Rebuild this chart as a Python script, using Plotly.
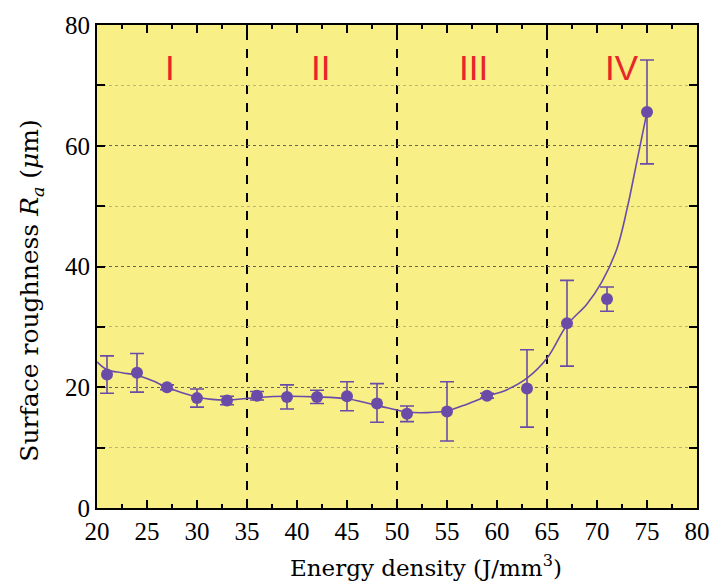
import plotly.graph_objects as go

# Measured data
energy = [21, 24, 27, 30, 33, 36, 39, 42, 45, 48, 51, 55, 59, 63, 67, 71, 75]
roughness = [22.1, 22.4, 20.0, 18.2, 17.8, 18.6, 18.4, 18.4, 18.5, 17.3, 15.6, 16.0, 18.6, 19.8, 30.6, 34.6, 65.6]
err_plus = [3.1, 3.2, 0.4, 1.5, 0.7, 0.7, 2.0, 1.1, 2.4, 3.3, 1.3, 4.9, 0.4, 6.4, 7.1, 2.0, 8.6]
err_minus = [3.1, 3.2, 0.4, 1.5, 0.7, 0.7, 2.0, 1.1, 2.4, 3.1, 1.3, 4.9, 0.4, 6.4, 7.1, 2.0, 8.6]

# Smoothed fit curve
fit_x = [20, 21, 22.5, 24, 25.5, 27, 28.5, 30, 31.5, 33, 36, 39, 42, 45, 47, 49, 51, 53, 55, 57, 59, 61, 63, 65, 67, 69, 70.5, 72, 73, 74, 75]
fit_y = [24.2, 22.9, 22.4, 22.0, 21.1, 20.0, 19.1, 18.4, 18.0, 17.9, 18.3, 18.5, 18.4, 18.1, 17.4, 16.6, 15.9, 15.8, 16.1, 17.2, 18.5, 19.6, 21.5, 24.8, 30.3, 33.8, 37.5, 43.0, 49.5, 57.5, 65.6]

# Regions
boundaries = [35, 50, 65]
region_labels = ["I", "II", "III", "IV"]
region_x = [27.3, 42.3, 57.6, 72.5]
region_y = 73

x_title = "Energy density (J/mm<sup>3</sup>)"
y_title = "Surface roughness <i>R<sub>a</sub></i> (<i>μ</i>m)"

purple = "#6A4CA8"
tick_font = "Liberation Serif, Times New Roman, serif"
title_font = "DejaVu Serif, serif"

fig = go.Figure()

fig.add_trace(go.Scatter(
    x=fit_x, y=fit_y, mode="lines",
    line=dict(color=purple, width=1.6, shape="spline", smoothing=1.0),
    hoverinfo="skip", showlegend=False,
))

fig.add_trace(go.Scatter(
    x=energy, y=roughness, mode="markers",
    marker=dict(color=purple, size=12),
    error_y=dict(type="data", symmetric=False, array=err_plus, arrayminus=err_minus,
                 color=purple, thickness=1.6, width=7),
    showlegend=False,
))

for b in boundaries:
    fig.add_shape(type="line", x0=b, x1=b, y0=0, y1=1, xref="x", yref="paper",
                  line=dict(color="black", width=2, dash="dash"), layer="below")

for lab, lx in zip(region_labels, region_x):
    fig.add_annotation(x=lx, y=region_y, text=lab, showarrow=False,
                       font=dict(family="Liberation Sans, Arial, sans-serif", size=35, color="#E8262A"))

# Axis titles as annotations (positioned like the reference)
fig.add_annotation(x=0.548, y=-0.12, xref="paper", yref="paper", text=x_title,
                   showarrow=False, xanchor="center", yanchor="middle",
                   font=dict(family=title_font, size=23, color="black"))
fig.add_annotation(x=-0.11, y=0.45, xref="paper", yref="paper", text=y_title,
                   showarrow=False, textangle=-90, xanchor="center", yanchor="middle",
                   font=dict(family=title_font, size=25, color="black"))

fig.update_layout(
    width=722, height=587,
    margin=dict(l=97, r=15, t=15, b=79),
    paper_bgcolor="white",
    plot_bgcolor="#F8EF86",
    font=dict(family=tick_font, size=25, color="black"),
)

fig.update_xaxes(
    range=[20, 80], dtick=5, tick0=20,
    ticks="inside", ticklen=8, tickwidth=2, tickcolor="black",
    showline=True, linecolor="black", linewidth=2, mirror="ticks",
    showgrid=False, zeroline=False,
    minor=dict(dtick=2.5, ticks="inside", ticklen=4, tickwidth=1.5, tickcolor="black", showgrid=False),
    tickfont=dict(size=25),
)

fig.update_yaxes(
    range=[0, 80], dtick=20, tick0=0,
    ticks="inside", ticklen=8, tickwidth=2, tickcolor="black",
    showline=True, linecolor="black", linewidth=2, mirror="ticks",
    showgrid=True, gridcolor="#666655", griddash="dot", gridwidth=1,
    zeroline=False,
    minor=dict(dtick=10, ticks="inside", ticklen=8, tickwidth=2, tickcolor="black",
               showgrid=True, gridcolor="#BDB575", griddash="dot", gridwidth=1),
    tickfont=dict(size=25),
)

fig.write_html("out.html")
